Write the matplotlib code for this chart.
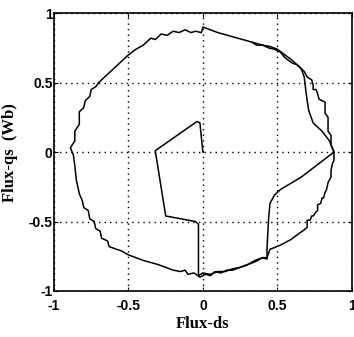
import numpy as np
import matplotlib.pyplot as plt

# start-up transient from the origin down to the outer circle
inner_x = [0.0, -0.01, -0.02, -0.04, -0.32, -0.25, -0.05, -0.03, -0.03]
inner_y = [0.0, 0.10, 0.21, 0.22, 0.01, -0.46, -0.50, -0.52, -0.89]

# first pass along bottom, smooth rise through (0.88, 0) and up to the top
pass1_x = [-0.03, 0.0, 0.05, 0.10, 0.15, 0.20, 0.25, 0.30, 0.35, 0.40, 0.43,
           0.43, 0.44, 0.45, 0.48, 0.52, 0.66, 0.88,
           0.85, 0.80, 0.74, 0.71, 0.70, 0.69, 0.68, 0.66]
pass1_y = [-0.89, -0.87, -0.88, -0.86, -0.86, -0.84, -0.83, -0.81, -0.78, -0.76, -0.77,
           -0.70, -0.49, -0.37, -0.31, -0.27, -0.18, 0.0,
           0.08, 0.15, 0.21, 0.30, 0.37, 0.45, 0.54, 0.60]

# outer circle: top, left side, bottom
outer_x = [0.66, 0.63, 0.60, 0.55, 0.50, 0.45, 0.40, 0.30, 0.20, 0.10, 0.0,
           -0.01, -0.05, -0.08, -0.12, -0.16, -0.20, -0.24, -0.28, -0.32, -0.35,
           -0.40, -0.45, -0.50, -0.55, -0.60, -0.65, -0.70, -0.72, -0.75, -0.76,
           -0.79, -0.80, -0.83, -0.83, -0.86, -0.86, -0.89, -0.87, -0.86, -0.85,
           -0.83, -0.81, -0.80, -0.77, -0.76, -0.73, -0.72, -0.69, -0.68, -0.64,
           -0.63, -0.58, -0.55, -0.50, -0.40, -0.30, -0.20, -0.15, -0.12, -0.10,
           -0.06, -0.02, 0.02, 0.05, 0.08, 0.12, 0.16, 0.20, 0.25, 0.30, 0.35,
           0.40, 0.43]
outer_y = [0.60, 0.63, 0.66, 0.70, 0.74, 0.76, 0.77, 0.80, 0.83, 0.86, 0.90,
           0.86, 0.87, 0.86, 0.88, 0.86, 0.87, 0.84, 0.85, 0.81, 0.82,
           0.77, 0.74, 0.70, 0.65, 0.60, 0.55, 0.50, 0.47, 0.45, 0.40,
           0.37, 0.32, 0.29, 0.20, 0.15, 0.08, 0.03, -0.02, -0.10, -0.20,
           -0.30, -0.35, -0.40, -0.42, -0.48, -0.50, -0.55, -0.57, -0.62, -0.64,
           -0.68, -0.70, -0.71, -0.74, -0.78, -0.81, -0.85, -0.86, -0.85, -0.88,
           -0.87, -0.90, -0.88, -0.89, -0.86, -0.87, -0.85, -0.85, -0.83, -0.81, -0.79,
           -0.76, -0.76]

# second pass: staircase up the right side
stair_x = [0.43, 0.45, 0.52, 0.59, 0.64, 0.68, 0.70, 0.70, 0.72, 0.73, 0.74, 0.76,
           0.77, 0.77, 0.79, 0.80, 0.81, 0.82, 0.83, 0.84, 0.85, 0.86, 0.86, 0.87, 0.88, 0.88,
           0.86, 0.86, 0.84, 0.84, 0.82, 0.82, 0.78, 0.77, 0.76, 0.74, 0.74, 0.73, 0.70,
           0.68, 0.66, 0.63, 0.60, 0.55, 0.52, 0.48, 0.44, 0.40, 0.36, 0.33]
stair_y = [-0.76, -0.70, -0.67, -0.63, -0.59, -0.56, -0.54, -0.49, -0.49, -0.46, -0.46, -0.43,
           -0.42, -0.38, -0.37, -0.33, -0.33, -0.29, -0.27, -0.22, -0.20, -0.18, -0.13, -0.08, -0.06, 0.0,
           0.05, 0.12, 0.15, 0.25, 0.28, 0.36, 0.38, 0.42, 0.45, 0.45, 0.48, 0.52, 0.54,
           0.58, 0.60, 0.63, 0.64, 0.68, 0.72, 0.74, 0.75, 0.77, 0.77, 0.79]

ticks = [-1, -0.5, 0, 0.5, 1]
tick_labels = ['-1', '-0.5', '0', '0.5', '1']

fig = plt.figure(figsize=(3.54, 3.37), dpi=100)
ax = fig.add_axes([0.1525, 0.1365, 0.8415, 0.8245])

for xs, ys in [(inner_x, inner_y), (pass1_x, pass1_y), (outer_x, outer_y), (stair_x, stair_y)]:
    ax.plot(xs, ys, color='black', lw=1.1)

ax.set_xlim(-1, 1)
ax.set_ylim(-1, 1)
ax.set_xticks(ticks)
ax.set_yticks(ticks)
ax.set_xticklabels(tick_labels, fontfamily='Liberation Sans', fontweight='bold', fontsize=10)
ax.set_yticklabels(tick_labels, fontfamily='Liberation Sans', fontweight='bold', fontsize=10)
ax.tick_params(direction='in', length=3, width=0.8, top=True, right=True)
ax.tick_params(axis='x', pad=6)
ax.tick_params(axis='y', pad=1)
ax.grid(True, color='black', linestyle=(0, (1, 3)), linewidth=1.0)
for s in ax.spines.values():
    s.set_linewidth(1.2)

ax.set_xlabel('Flux-ds', fontfamily='Liberation Serif', fontweight='bold', fontsize=12)
ax.set_ylabel('Flux-qs  (Wb)', fontfamily='Liberation Serif', fontweight='bold', fontsize=12)
ax.xaxis.set_label_coords(0.5, -0.09)
ax.yaxis.set_label_coords(-0.12, 0.5)

fig.savefig('out.png', dpi=100)
